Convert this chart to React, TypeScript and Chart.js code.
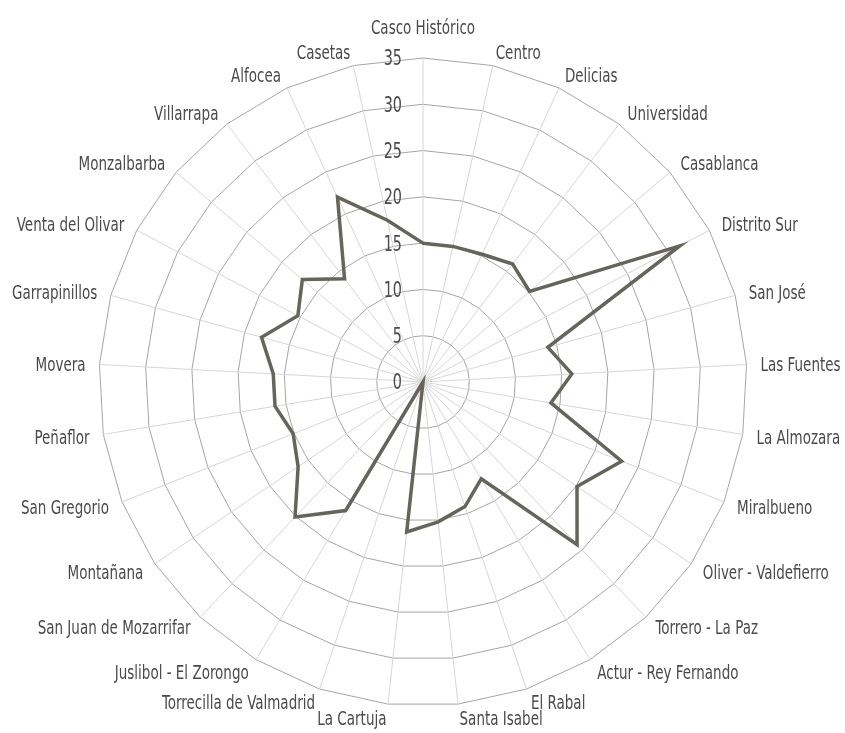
import React, { useEffect, useRef } from "react";
import { Chart, registerables } from "chart.js";

Chart.register(...registerables);

const categories: string[] = [
  "Casco Histórico", "Centro", "Delicias", "Universidad", "Casablanca", "Distrito Sur",
  "San José", "Las Fuentes", "La Almozara", "Miralbueno", "Oliver - Valdefierro",
  "Torrero - La Paz", "Actur - Rey Fernando", "El Rabal", "Santa Isabel", "La Cartuja",
  "Torrecilla de Valmadrid", "Juslibol - El Zorongo", "San Juan de Mozarrifar", "Montañana",
  "San Gregorio", "Peñaflor", "Movera", "Garrapinillos", "Venta del Olivar", "Monzalbarba",
  "Villarrapa", "Alfocea", "Casetas",
];

const values: number[] = [
  15, 15, 15.2, 16, 15.1, 31.4,
  14, 16.1, 14, 23.1, 20.1,
  24.2, 12.2, 14.2, 15.2, 16.3,
  0, 16.2, 20.1, 16.3,
  15.1, 16.2, 16.2, 18.1, 15.3, 17.1,
  14, 22, 17.9,
];

const tickValues: number[] = [0, 5, 10, 15, 20, 25, 30, 35];

const FONT = "'DejaVu Sans Condensed', 'DejaVu Sans', sans-serif";
const TEXT_COLOR = "#4a4a4a";
const LABEL_GAP = 14;
const STRETCH = 1.3;

function tallText(ctx: CanvasRenderingContext2D, text: string, x: number, y: number) {
  ctx.save();
  ctx.translate(x, y);
  ctx.scale(1, STRETCH);
  ctx.fillText(text, 0, 0);
  ctx.restore();
}

const labelPlugin = {
  id: "customLabels",
  afterDraw(chart: any) {
    const scale = chart.scales.r;
    const ctx = chart.ctx;
    ctx.save();
    ctx.fillStyle = TEXT_COLOR;

    // tick labels, left of the vertical axis
    ctx.font = `16px ${FONT}`;
    ctx.textAlign = "right";
    ctx.textBaseline = "middle";
    for (const v of tickValues) {
      const d = scale.getDistanceFromCenterForValue(v);
      tallText(ctx, String(v), scale.xCenter - 21, scale.yCenter - d + 2);
    }

    // point labels
    ctx.font = `15px ${FONT}`;
    const n = categories.length;
    for (let i = 0; i < n; i++) {
      const p = scale.getPointPosition(i, scale.drawingArea + LABEL_GAP);
      const deg = (i * 360) / n;
      if (deg === 0) {
        ctx.textAlign = "center";
        ctx.textBaseline = "alphabetic";
        tallText(ctx, categories[i], p.x, p.y - 10);
      } else {
        ctx.textAlign = deg < 180 ? "left" : "right";
        ctx.textBaseline = "middle";
        tallText(ctx, categories[i], p.x, p.y + 2);
      }
    }
    ctx.restore();
  },
};

export default function App() {
  const ref = useRef<HTMLCanvasElement | null>(null);
  useEffect(() => {
    if (!ref.current) return;
    const chart = new Chart(ref.current, {
      type: "radar",
      data: {
        labels: categories,
        datasets: [
          {
            data: values,
            borderColor: "#66645b",
            borderWidth: 3.5,
            borderJoinStyle: "miter",
            fill: false,
            pointRadius: 0,
            pointHoverRadius: 0,
          },
        ],
      },
      options: {
        animation: false,
        responsive: true,
        maintainAspectRatio: false,
        layout: { padding: { top: 58, bottom: 27, left: 1, right: 0 } },
        plugins: { legend: { display: false }, tooltip: { enabled: false } },
        scales: {
          r: {
            min: 0,
            max: 35,
            ticks: { stepSize: 5, display: false },
            grid: { color: "#a5a5a5", lineWidth: 1, circular: false },
            angleLines: { color: "#d6d6d6", lineWidth: 1 },
            pointLabels: { display: false },
          },
        },
      },
      plugins: [labelPlugin],
    });
    return () => chart.destroy();
  }, []);
  return (
    <div style={{ position: "fixed", left: 0, top: 0, width: 845, height: 733 }}>
      <canvas ref={ref} />
    </div>
  );
}
